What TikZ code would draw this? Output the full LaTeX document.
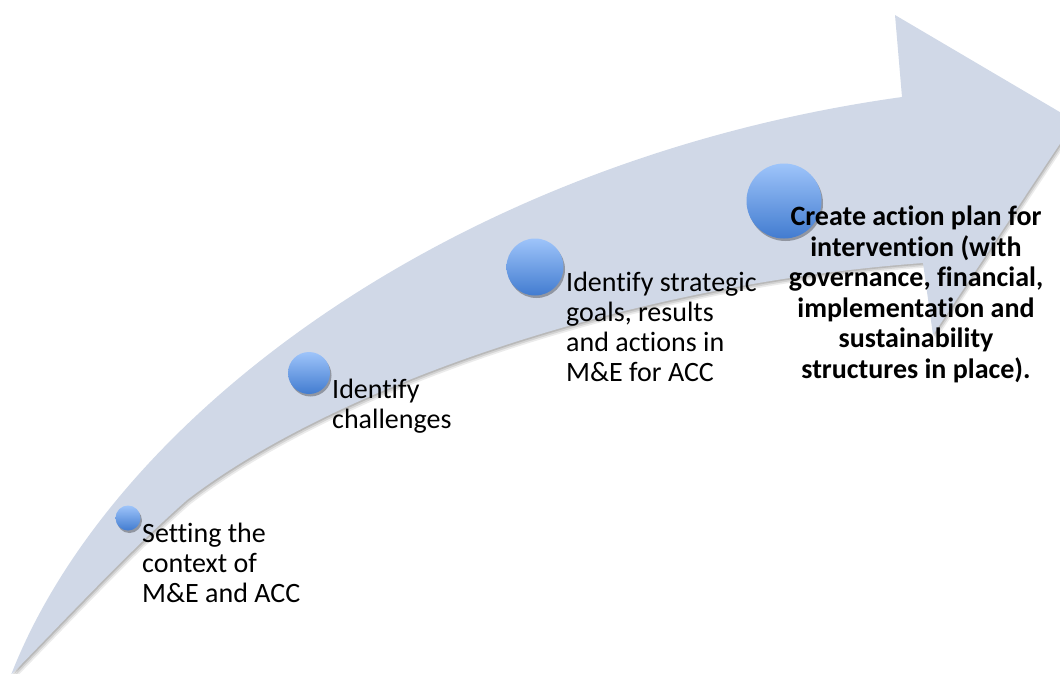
\documentclass[tikz,border=0pt]{standalone}
\usepackage{fontspec}
\setmainfont{Carlito}[Ligatures=NoCommon]
\usetikzlibrary{shadows}
\definecolor{arrowfill}{RGB}{208,216,231}
\definecolor{ballTop}{RGB}{158,196,250}
\definecolor{ballBot}{RGB}{66,124,208}
\tikzset{
  ball/.style={circle, inner sep=0pt, draw=none, shading=axis, top color=ballTop, bottom color=ballBot,
    drop shadow={shadow xshift=1.5pt, shadow yshift=-2.5pt, opacity=0.3, fill=black}},
  lbl/.style={anchor=base west, align=left, inner sep=0pt, font=\fontsize{28}{30}\selectfont},
  boldlbl/.style={anchor=base, align=center, inner sep=0pt, font=\fontsize{28}{30.5}\selectfont\bfseries},
}
\def\arrowpath{(11,675) .. controls (110,420) and (450,160) .. (902,97) -- (895,15) -- (1075,121) -- (933,335) -- (923,263) .. controls (620,285) and (330,390) .. (187,500) .. controls (130,550) and (60,625) .. (11,675) -- cycle}
\begin{document}
\begin{tikzpicture}[x=1pt,y=-1pt]
\useasboundingbox (0,0) rectangle (1060,673);
\clip (0,0) rectangle (1060,673);
\fill[black, opacity=0.08, shift={(3,4.5)}] \arrowpath;
\fill[black, opacity=0.10, shift={(2,3)}] \arrowpath;
\fill[black, opacity=0.12, shift={(1,1.5)}] \arrowpath;
\fill[arrowfill] \arrowpath;
\node[ball, minimum size=25] (b1) at (128,518) {};
\node[ball, minimum size=42] (b2) at (309,373) {};
\node[ball, minimum size=57] (b3) at (535,267) {};
\node[ball, minimum size=75] (b4) at (784,201) {};
% base anchor of a multi-line node is the baseline of its last line
\node[lbl] (t1) at (142,602) {Setting the\\context of\\M\&E and ACC};
\node[lbl] (t2) at (332,428) {Identify\\challenges};
\node[lbl] (t3) at (566,381) {Identify strategic\\goals, results\\and actions in\\M\&E for ACC};
\node[boldlbl] (t4) at (916,378) {Create action plan for\\intervention (with\\governance, financial,\\implementation and\\sustainability\\structures in place).};
\end{tikzpicture}
\end{document}
